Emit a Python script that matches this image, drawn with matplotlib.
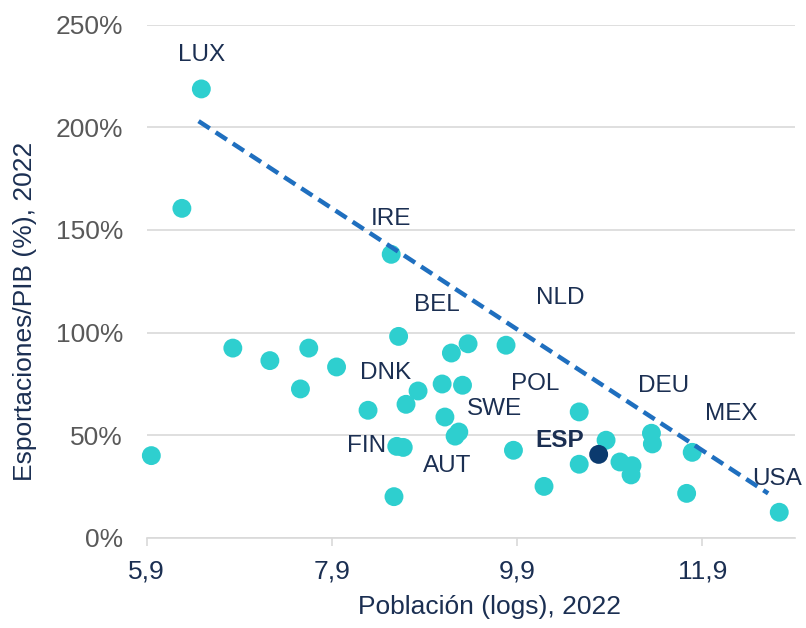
import matplotlib
matplotlib.use("Agg")
import matplotlib.pyplot as plt
from matplotlib.ticker import FuncFormatter, FixedLocator

plt.rcParams['font.family'] = ['Liberation Sans', 'DejaVu Sans']

# data: log population (x) and exports/GDP in % (y)
pop_log = [5.95, 6.28, 6.49, 6.83, 7.23, 7.56, 7.65, 7.95, 8.29, 8.54,
           8.57, 8.60, 8.67, 8.62, 8.70, 8.83, 9.09, 9.12, 9.19, 9.23,
           9.27, 9.31, 9.37, 9.78, 9.86, 10.19, 10.57, 10.57, 10.86, 11.01,
           11.14, 11.13, 11.35, 11.36, 11.73, 11.79, 12.73]
exports_pct = [40.0, 160.5, 218.7, 92.4, 86.3, 72.5, 92.4, 83.2, 62.1, 138.1,
               20.0, 44.5, 44.0, 98.1, 65.0, 71.5, 74.9, 58.8, 90.0, 49.5,
               51.5, 74.3, 94.5, 93.8, 42.6, 25.0, 61.3, 35.8, 47.5, 36.9,
               35.1, 30.6, 50.9, 45.7, 21.6, 41.6, 12.4]
esp_x = [10.78]
esp_y = [40.6]

trend_x = [6.46, 12.61]
trend_y = [203.0, 21.6]

labels = ["LUX", "IRE", "BEL", "NLD", "DNK", "POL", "DEU", "SWE", "MEX",
          "FIN", "AUT", "USA"]
label_x = [6.49, 8.54, 9.03, 10.36, 8.48, 10.10, 11.48, 9.65, 12.21,
           8.27, 9.14, 12.71]
label_y = [235.2, 155.3, 113.4, 116.8, 80.3, 75.0, 74.0, 62.7, 60.3,
           44.7, 35.0, 28.6]
esp_label = ["ESP"]
esp_label_x = [10.36]
esp_label_y = [47.6]

x_ticks = [5.9, 7.9, 9.9, 11.9]
y_ticks = [0, 50, 100, 150, 200, 250]

W, H = 806, 628
fig = plt.figure(figsize=(W / 100, H / 100), dpi=100)
ax = fig.add_axes([146.7 / W, 1 - 537.7 / H, (795 - 146.7) / W, (537.7 - 24.7) / H])

navy = "#1b2f52"
gray = "#595959"
teal = "#2ecfcf"

ax.set_xlim(5.9, 12.9)
ax.set_ylim(0, 250)

ax.scatter(pop_log, exports_pct, s=185, color=teal, edgecolors='none', zorder=3, clip_on=False)
ax.scatter(esp_x, esp_y, s=185, color="#0b3a6e", edgecolors='none', zorder=4)
ax.plot(trend_x, trend_y, linestyle=(0, (3, 1.6)), color="#1f6fbf", linewidth=3.2, zorder=5)

for t, x, y in zip(labels, label_x, label_y):
    ax.text(x, y, t, ha='center', va='center', fontsize=17.5, color=navy, zorder=6)
for t, x, y in zip(esp_label, esp_label_x, esp_label_y):
    ax.text(x, y, t, ha='center', va='center', fontsize=17.5, color=navy,
            fontweight='bold', zorder=6)

ax.yaxis.set_major_locator(FixedLocator(y_ticks))
ax.yaxis.set_major_formatter(FuncFormatter(lambda v, p: f"{int(v)}%"))
ax.xaxis.set_major_locator(FixedLocator(x_ticks))
ax.xaxis.set_major_formatter(FuncFormatter(lambda v, p: f"{v:.1f}".replace('.', ',')))

ax.grid(axis='y', color="#d9d9d9", linewidth=1.2, zorder=0)
ax.set_axisbelow(True)
for s in ['left', 'right', 'top']:
    ax.spines[s].set_visible(False)
ax.spines['bottom'].set_color("#d9d9d9")
ax.spines['bottom'].set_linewidth(1.2)

ax.tick_params(axis='y', length=0, pad=17, labelsize=19, labelcolor=gray)
ax.tick_params(axis='x', length=6, width=1.2, color="#d9d9d9", pad=10,
               labelsize=19, labelcolor=navy)

fig.text(490 / W, 1 - 607 / H, "Población (logs), 2022", ha='center', va='center',
         fontsize=19, color=navy)
fig.text(25 / W, 1 - 311 / H, "Esportaciones/PIB (%), 2022", ha='center', va='center',
         fontsize=19, color=navy, rotation=90)

fig.savefig("out.png", dpi=100)
